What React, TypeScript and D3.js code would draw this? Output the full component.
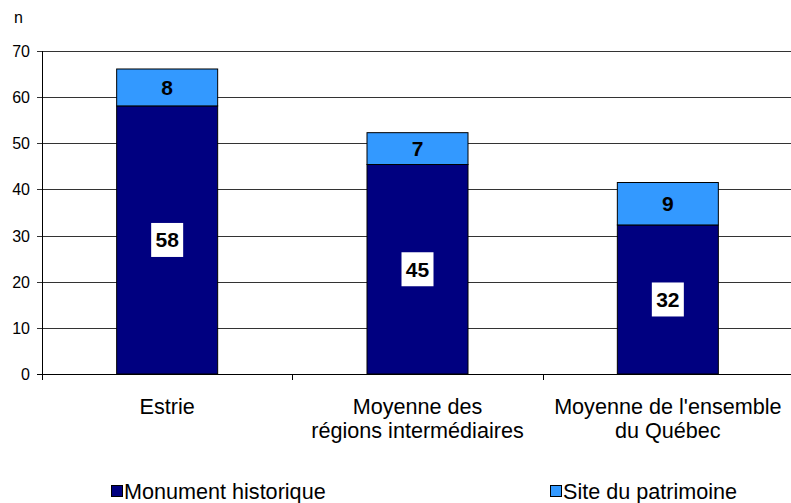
import React from "react";
import * as d3 from "d3";

const categories = [["Estrie"], ["Moyenne des", "régions intermédiaires"], ["Moyenne de l'ensemble", "du Québec"]];
const monument = [58.1, 45.4, 32.3];
const site = [8, 6.9, 9.2];
const monumentLabels = ["58", "45", "32"];
const siteLabels = ["8", "7", "9"];
const yTicks = [0, 10, 20, 30, 40, 50, 60, 70];
const seriesNames = ["Monument historique", "Site du patrimoine"];
const colors = ["#000080", "#3399FF"];

export default function App() {
  const W = 791, H = 503;
  const left = 42, right = 793, top = 51, bottom = 374;
  const x = d3.scaleBand<number>().domain([0, 1, 2]).range([left, right]).paddingInner(0).paddingOuter(0);
  const y = d3.scaleLinear().domain([0, 70]).range([bottom, top]);
  const bw = 101;
  const font = "'Liberation Sans', Arial, sans-serif";
  return (
    <svg width={W} height={H} style={{ position: "absolute", left: 0, top: 0, background: "#fff" }} fontFamily={font}>
      {yTicks.map((t) => (
        <g key={t}>
          <line x1={left - 5} x2={right} y1={Math.round(y(t)) + 0.5} y2={Math.round(y(t)) + 0.5} stroke={t === 0 ? "#000" : "#333"} strokeWidth={1} />
          <text x={30} y={y(t) + 6} textAnchor="end" fontSize={16} fill="#000">{t}</text>
        </g>
      ))}
      <line x1={left + 0.5} x2={left + 0.5} y1={top} y2={bottom + 5} stroke="#000" />
      {[0, 1, 2, 3].map((i) => {
        const xx = Math.round(left + x.step() * i) + 0.5;
        return <line key={i} x1={xx} x2={xx} y1={bottom} y2={bottom + 6} stroke="#000" />;
      })}
      <text x={14} y={23} fontSize={16} fill="#000">n</text>
      {categories.map((c, i) => {
        const cx = (x(i) as number) + x.bandwidth() / 2;
        const x0 = cx - bw / 2;
        const m = monument[i], s = site[i];
        const my = (y(0) + y(m)) / 2;
        const sy = (y(m) + y(m + s)) / 2;
        return (
          <g key={i}>
            <rect x={x0} y={y(m)} width={bw} height={y(0) - y(m)} fill={colors[0]} stroke="#000" strokeWidth={1} />
            <rect x={x0} y={y(m + s)} width={bw} height={y(m) - y(m + s)} fill={colors[1]} stroke="#000" strokeWidth={1} />
            <rect x={cx - 16} y={my - 17} width={32} height={34} fill="#fff" />
            <text x={cx} y={my + 7.5} textAnchor="middle" fontSize={21} fontWeight="bold" fill="#000">{monumentLabels[i]}</text>
            <text x={cx} y={sy + 7.5} textAnchor="middle" fontSize={21} fontWeight="bold" fill="#000">{siteLabels[i]}</text>
            {c.map((line, j) => (
              <text key={j} x={cx} y={414 + j * 24} textAnchor="middle" fontSize={21.6} fill="#000">{line}</text>
            ))}
          </g>
        );
      })}
      {seriesNames.map((n, i) => {
        const lx = i === 0 ? 111 : 550;
        return (
          <g key={n}>
            <rect x={lx + 0.5} y={485.5} width={11} height={11} fill={colors[i]} stroke="#000" />
            <text x={lx + 13} y={499} fontSize={21.6} fill="#000">{n}</text>
          </g>
        );
      })}
    </svg>
  );
}
